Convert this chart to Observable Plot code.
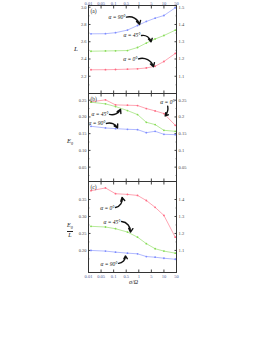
<!DOCTYPE html>
<html><head><meta charset="utf-8">
<script src="https://cdn.jsdelivr.net/npm/d3@7"></script>
<script src="https://cdn.jsdelivr.net/npm/@observablehq/plot@0.6"></script>
<style>
body{margin:0;background:#fff;}
#wrap{position:relative;width:273px;height:353px;overflow:hidden;background:#fff;}
#wrap svg{position:absolute;left:0;top:0;}
.lab{position:absolute;font-family:"Liberation Serif",serif;font-style:italic;color:#222;line-height:1;}
</style></head><body><div id="wrap"></div>
<script>
// x axis: equally spaced tick labels (σ/Ω)
const xTickLabels = ["0.01","0.05","0.1","0.5","1","5","10","50"];
const xPos = [0.2, 1.35, 2.15, 3.1, 3.9, 4.6, 5.3, 6.0, 6.9];
const angles = ["α = 0°", "α = 45°", "α = 90°"];
const colors = ["#ff6a82", "#86dc55", "#7d8cff"];

// (a) L
const L_0  = [2.275, 2.276, 2.278, 2.282, 2.286, 2.296, 2.316, 2.371, 2.464];
const L_45 = [2.490, 2.493, 2.495, 2.498, 2.533, 2.585, 2.632, 2.672, 2.734];
const L_90 = [2.692, 2.693, 2.705, 2.735, 2.788, 2.835, 2.873, 2.904, 2.993];
const L_ticks = [2.2, 2.4, 2.6, 2.8, 3.0];
const L_ticksRight = ["1.1", "1.2", "1.3", "1.4", "1.5"];

// (b) E0
const E_0  = [0.245, 0.251, 0.236, 0.235, 0.234, 0.225, 0.218, 0.210, 0.175];
const E_45 = [0.244, 0.239, 0.231, 0.219, 0.207, 0.184, 0.177, 0.160, 0.157];
const E_90 = [0.172, 0.167, 0.165, 0.163, 0.162, 0.153, 0.157, 0.148, 0.147];
const E_ticks = [0.05, 0.1, 0.15, 0.2, 0.25];
const E_ticksRight = ["0.05", "0.1", "0.15", "0.2", "0.25"];

// (c) E0/L
const R_0  = [0.376, 0.384, 0.367, 0.365, 0.362, 0.347, 0.327, 0.303, 0.239];
const R_45 = [0.271, 0.269, 0.264, 0.254, 0.239, 0.220, 0.205, 0.198, 0.192];
const R_90 = [0.200, 0.198, 0.195, 0.192, 0.190, 0.182, 0.180, 0.177, 0.174];
const R_ticks = [0.2, 0.25, 0.3, 0.35];
const R_ticksRight = ["1.1", "1.2", "1.3", "1.4"];

// annotations (text end point, arrow start -> arrow end, bend)
const notesA = [
  {t: "α = 90°", tx: 2.94, ty: 2.885, x1: 3.02, y1: 2.885, x2: 4.06, y2: 2.80, b: 45},
  {t: "α = 45°", tx: 4.14, ty: 2.675, x1: 4.22, y1: 2.672, x2: 4.97, y2: 2.598, b: 45},
  {t: "α = 0°",  tx: 3.90, ty: 2.402, x1: 3.98, y1: 2.402, x2: 5.17, y2: 2.31, b: 45}
];
const notesB = [
  {t: "α = 0°",  tx: 6.85, ty: 0.245, x1: 6.30, y1: 0.232, x2: 6.10, y2: 0.203, b: 25},
  {t: "α = 45°", tx: 1.59, ty: 0.2075, x1: 1.67, y1: 0.2075, x2: 2.55, y2: 0.2225, b: -40},
  {t: "α = 90°", tx: 1.35, ty: 0.18, x1: 1.43, y1: 0.1805, x2: 2.31, y2: 0.167, b: 40}
];
const notesC = [
  {t: "α = 0°",  tx: 2.07, ty: 0.325, x1: 2.15, y1: 0.3265, x2: 2.67, y2: 0.356, b: -45},
  {t: "α = 45°", tx: 2.55, ty: 0.283, x1: 2.63, y1: 0.285, x2: 3.34, y2: 0.254, b: 45},
  {t: "α = 90°", tx: 2.31, ty: 0.159, x1: 2.39, y1: 0.162, x2: 2.94, y2: 0.184, b: -45}
];

const W = 273, H = 353, LEFT = 88, RIGHT = 176;

function panel({top, bottom, domain, ticks, ticksRight, minor, series, notes, tag, topLabels, bottomLabels}) {
  const rows = [];
  series.forEach((vals, k) => vals.forEach((v, i) => rows.push({x: xPos[i], y: v, a: angles[k]})));
  const rmap = new Map(ticks.map((t, i) => [t, ticksRight[i]]));
  const xfmt = (d) => xTickLabels[Math.round(d)];
  return Plot.plot({
    width: W, height: H,
    marginLeft: LEFT, marginRight: W - RIGHT, marginTop: top, marginBottom: H - bottom,
    x: {domain: [0, 7]},
    y: {domain},
    color: {domain: angles, range: colors},
    style: {background: "transparent", overflow: "visible", fontSize: "4.5px", fontFamily: "Liberation Serif", color: "#444"},
    marks: [
      Plot.axisX({anchor: "bottom", ticks: d3.range(8), tickSize: -2.5, tickPadding: 4.5, tickFormat: bottomLabels ? xfmt : () => "", label: null, fill: "#4a5a99"}),
      Plot.axisX({anchor: "top", ticks: d3.range(8), tickSize: -2.5, tickPadding: 3.5, tickFormat: topLabels ? xfmt : () => "", label: null, fill: "#4a5a99"}),
      Plot.axisY({anchor: "left", ticks, tickSize: -2.5, tickPadding: 4.5, label: null}),
      Plot.axisY({anchor: "left", ticks: minor, tickSize: -1.3, tickFormat: () => "", label: null}),
      Plot.axisY({anchor: "right", ticks, tickSize: -2.5, tickPadding: 4.5, tickFormat: (d) => rmap.get(d), label: null}),
      Plot.axisY({anchor: "right", ticks: minor, tickSize: -1.3, tickFormat: () => "", label: null}),
      Plot.line(rows, {x: "x", y: "y", z: "a", stroke: "a", strokeWidth: 0.6}),
      Plot.dot(rows, {x: "x", y: "y", fill: "a", r: 0.9}),
      ...notes.map((n) => Plot.arrow([n], {x1: "x1", y1: "y1", x2: "x2", y2: "y2", bend: n.b, stroke: "#111", strokeWidth: 1.4, headLength: 4.5})),
      Plot.text(notes, {x: "tx", y: "ty", text: "t", textAnchor: "end", fontStyle: "italic", fontSize: 5.5, fill: "#111"}),
      Plot.text([tag], {frameAnchor: "top-left", dx: 2, dy: 4, fontSize: 5.5, fill: "#222"}),
      Plot.frame({stroke: "#333", strokeWidth: 1})
    ]
  });
}

const wrap = document.getElementById("wrap");
const mid = (arr) => arr.slice(1).map((t, i) => (t + arr[i]) / 2);
wrap.append(panel({top: 5, bottom: 93, domain: [2.0, 3.02], ticks: L_ticks, ticksRight: L_ticksRight,
  minor: mid([2.0, ...L_ticks]), series: [L_0, L_45, L_90], notes: notesA, tag: "(a)", topLabels: true, bottomLabels: false}));
wrap.append(panel({top: 93, bottom: 181, domain: [0.007, 0.27], ticks: E_ticks, ticksRight: E_ticksRight,
  minor: mid([0, ...E_ticks]), series: [E_0, E_45, E_90], notes: notesB, tag: "(b)", topLabels: false, bottomLabels: false}));
wrap.append(panel({top: 181, bottom: 272, domain: [0.135, 0.403], ticks: R_ticks, ticksRight: R_ticksRight,
  minor: mid([0.15, ...R_ticks]), series: [R_0, R_45, R_90], notes: notesC, tag: "(c)", topLabels: false, bottomLabels: true}));

function addLabel(html, left, top, size) {
  const s = document.createElement("div");
  s.className = "lab";
  s.style.left = left + "px"; s.style.top = top + "px"; s.style.fontSize = size + "px";
  s.innerHTML = html;
  wrap.append(s);
}
addLabel("L", 74, 46, 7);
addLabel("<span style='color:#222'>E</span><sub style='font-size:4px;color:#222'>0</sub>", 67, 138, 6.5);
addLabel("<div style='text-align:center;color:#222'>E<sub style='font-size:4px'>0</sub><div style='border-top:0.6px solid #222;margin:0.5px 0'></div>L</div>", 67, 222, 6);
addLabel("σ/Ω", 129, 279, 6);
</script></body></html>
